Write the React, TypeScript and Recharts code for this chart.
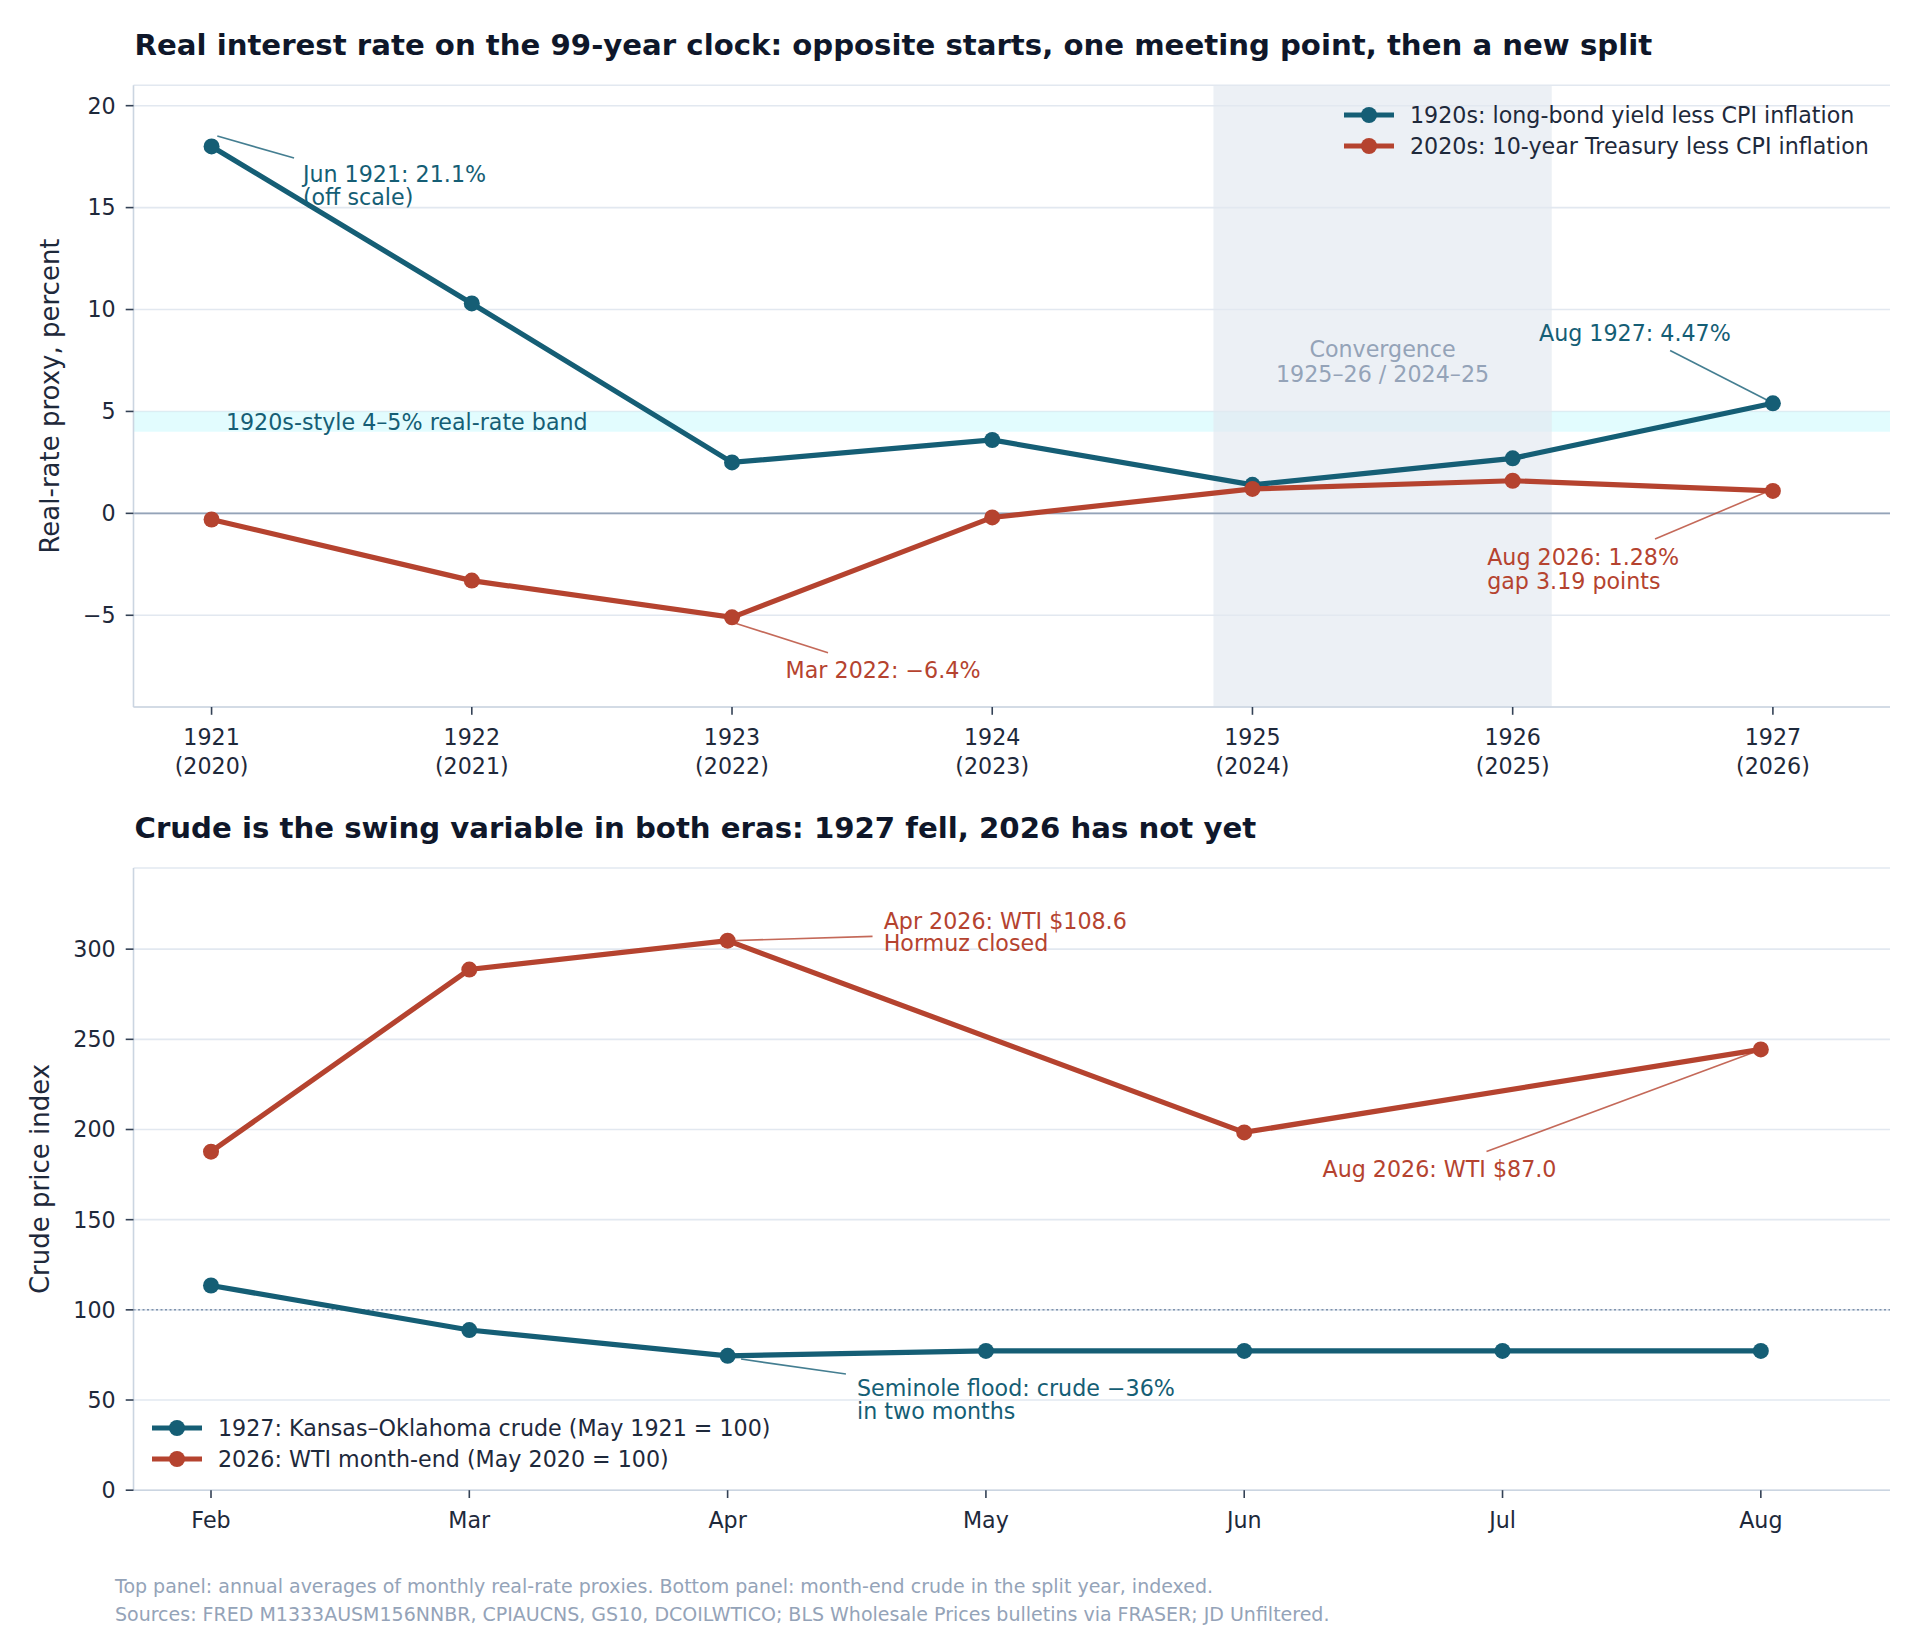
import {
  LineChart,
  Line,
  XAxis,
  YAxis,
  CartesianGrid,
  ReferenceArea,
  ReferenceLine,
  ReferenceDot,
} from 'recharts'

const FONT = '"DejaVu Sans", sans-serif'
const TEAL = '#155e75'
const RUST = '#b5432f'
const INK = '#1e293b'
const MUTED = '#94a3b8'
const GRID = '#e2e8f0'
const SPINE = '#cbd5e1'

// top panel: annual averages
const years1920s = ['1921', '1922', '1923', '1924', '1925', '1926', '1927']
const years2020s = ['2020', '2021', '2022', '2023', '2024', '2025', '2026']
const realRate1920s = [18.0, 10.3, 2.5, 3.6, 1.4, 2.7, 5.4]
const realRate2020s = [-0.3, -3.3, -5.1, -0.2, 1.2, 1.6, 1.1]
const rateTicks = [-5, 0, 5, 10, 15, 20]

// bottom panel: month-end crude, indexed
const months = ['Feb', 'Mar', 'Apr', 'May', 'Jun', 'Jul', 'Aug']
const crude1927 = [113.5, 88.8, 74.5, 77.2, 77.2, 77.2, 77.2]
const wti2026 = [187.7, 288.7, 304.7, null, 198.4, null, 244.4]
const crudeTicks = [0, 50, 100, 150, 200, 250, 300]

const rateRows = years1920s.map((_, i) => ({ i, a: realRate1920s[i], b: realRate2020s[i] }))
const crudeRows = months.map((_, i) => ({ i, a: crude1927[i], b: wti2026[i] }))

const topLegend = [
  { label: '1920s: long-bond yield less CPI inflation', color: TEAL },
  { label: '2020s: 10-year Treasury less CPI inflation', color: RUST },
]
const bottomLegend = [
  { label: '1927: Kansas–Oklahoma crude (May 1921 = 100)', color: TEAL },
  { label: '2026: WTI month-end (May 2020 = 100)', color: RUST },
]

const fmt = (v: number) => (v < 0 ? `\u2212${Math.abs(v)}` : `${v}`)

const YearTick = ({ x, y, payload }: any) => (
  <text x={x} y={y} textAnchor="middle" fill={INK} fontSize={22.2} fontFamily={FONT}>
    <tspan x={x} dy={30}>{years1920s[payload.value]}</tspan>
    <tspan x={x} dy={29}>({years2020s[payload.value]})</tspan>
  </text>
)

const MonthTick = ({ x, y, payload }: any) => (
  <text x={x} y={y} textAnchor="middle" fill={INK} fontSize={22.2} fontFamily={FONT} dy={29.6}>
    {months[payload.value]}
  </text>
)

// text label drawn at a data position
const note = (lines: string[], color: string, anchor = 'start', gap = 23) => (p: any) => (
  <text x={p.cx} y={p.cy} fill={color} fontSize={22.2} fontFamily={FONT} textAnchor={anchor}>
    {lines.map((l, k) => (
      <tspan key={k} x={p.cx} dy={k === 0 ? 0 : gap}>
        {l}
      </tspan>
    ))}
  </text>
)

const Legendish = ({ items, top, left, gap }: any) => (
  <div
    style={{
      position: 'absolute',
      top,
      left,
      fontFamily: FONT,
      fontSize: 22.2,
      color: INK,
    }}
  >
    {items.map((it: any) => (
      <div key={it.label} style={{ display: 'flex', alignItems: 'center', height: gap, whiteSpace: 'nowrap' }}>
        <svg width={50} height={18}>
          <line x1={0} y1={9} x2={50} y2={9} stroke={it.color} strokeWidth={5.2} />
          <circle cx={25} cy={9} r={8} fill={it.color} />
        </svg>
        <span style={{ marginLeft: 16 }}>{it.label}</span>
      </div>
    ))}
  </div>
)

const connector = (x1: number, y1: number, x2: number, y2: number, color: string) => (
  <ReferenceLine
    segment={[
      { x: x1, y: y1 },
      { x: x2, y: y2 },
    ]}
    stroke={color}
    strokeOpacity={0.8}
    strokeWidth={1.6}
    ifOverflow="visible"
  />
)

const axisTick = { fill: INK, fontSize: 22.2, fontFamily: FONT }
const dotStyle = (c: string) => ({ r: 8, fill: c, stroke: c, strokeWidth: 0 })

const App = () => {
  return (
    <div style={{ position: 'absolute', top: 0, left: 0, width: 1920, height: 1639, background: '#fff' }}>
      <svg width={1920} height={1639} style={{ position: 'absolute', top: 0, left: 0 }}>
        <text x={134.5} y={55} fill="#0f172a" fontSize={29.2} fontWeight="bold" fontFamily={FONT}>
          Real interest rate on the 99-year clock: opposite starts, one meeting point, then a new split
        </text>
        <text x={134.5} y={838} fill="#0f172a" fontSize={29.2} fontWeight="bold" fontFamily={FONT}>
          Crude is the swing variable in both eras: 1927 fell, 2026 has not yet
        </text>
        <text
          x={59.4}
          y={396}
          transform="rotate(-90 59.4 396)"
          textAnchor="middle"
          fill={INK}
          fontSize={26}
          fontFamily={FONT}
        >
          Real-rate proxy, percent
        </text>
        <text
          x={49.4}
          y={1179}
          transform="rotate(-90 49.4 1179)"
          textAnchor="middle"
          fill={INK}
          fontSize={26}
          fontFamily={FONT}
        >
          Crude price index
        </text>
        <text x={115} y={1593} fill={MUTED} fontSize={19} fontFamily={FONT}>
          Top panel: annual averages of monthly real-rate proxies. Bottom panel: month-end crude in the split year, indexed.
        </text>
        <text x={115} y={1621.4} fill={MUTED} fontSize={19} fontFamily={FONT}>
          Sources: FRED M1333AUSM156NNBR, CPIAUCNS, GS10, DCOILWTICO; BLS Wholesale Prices bulletins via FRASER; JD Unfiltered.
        </text>
      </svg>

      <div style={{ position: 'absolute', top: 0, left: 0 }}>
        <LineChart width={1920} height={790} data={rateRows} margin={{ top: 85.3, right: 30, bottom: 0, left: 73.5 }}>
          <ReferenceArea y1={4} y2={5} fill="#cffafe" fillOpacity={0.6} stroke="none" ifOverflow="visible" />
          <ReferenceArea x1={3.85} x2={5.15} fill={GRID} fillOpacity={0.65} stroke="none" />
          <CartesianGrid horizontal vertical={false} stroke={GRID} strokeWidth={1.6} />
          <ReferenceLine y={0} stroke={MUTED} strokeWidth={1.8} />
          <XAxis
            type="number"
            dataKey="i"
            domain={[-0.3, 6.45]}
            ticks={[0, 1, 2, 3, 4, 5, 6]}
            allowDataOverflow
            height={83}
            tick={<YearTick />}
            tickSize={7.8}
            tickMargin={0}
            axisLine={{ stroke: SPINE, strokeWidth: 1.6 }}
            tickLine={{ stroke: '#334155', strokeWidth: 1.6 }}
          />
          <YAxis
            domain={[-9.5, 21]}
            ticks={rateTicks}
            allowDataOverflow
            width={60}
            tick={axisTick}
            tickFormatter={fmt}
            tickSize={7.8}
            tickMargin={10}
            axisLine={{ stroke: SPINE, strokeWidth: 1.6 }}
            tickLine={{ stroke: '#334155', strokeWidth: 1.6 }}
          />
          {connector(0.022, 18.51, 0.317, 17.43, TEAL)}
          {connector(2.004, -5.35, 2.369, -6.84, RUST)}
          {connector(5.605, 7.99, 5.977, 5.56, TEAL)}
          {connector(5.547, -1.26, 5.977, 1.06, RUST)}
          <Line
            dataKey="a"
            stroke={TEAL}
            strokeWidth={5.2}
            dot={dotStyle(TEAL)}
            activeDot={false}
            isAnimationActive={false}
          />
          <Line
            dataKey="b"
            stroke={RUST}
            strokeWidth={5.2}
            dot={dotStyle(RUST)}
            activeDot={false}
            isAnimationActive={false}
          />
          <ReferenceDot x={0.351} y={16.26} r={0} ifOverflow="visible" shape={note(['Jun 1921: 21.1%', '(off scale)'], TEAL)} />
          <ReferenceDot x={0.055} y={4.11} r={0} ifOverflow="visible" shape={note(['1920s-style 4–5% real-rate band'], TEAL)} />
          <ReferenceDot x={2.206} y={-8.06} r={0} ifOverflow="visible" shape={note(['Mar 2022: \u22126.4%'], RUST)} />
          <ReferenceDot
            x={4.5}
            y={7.67}
            r={0}
            ifOverflow="visible"
            shape={note(['Convergence', '1925–26 / 2024–25'], MUTED, 'middle', 25)}
          />
          <ReferenceDot x={5.101} y={8.47} r={0} ifOverflow="visible" shape={note(['Aug 1927: 4.47%'], TEAL)} />
          <ReferenceDot
            x={4.902}
            y={-2.51}
            r={0}
            ifOverflow="visible"
            shape={note(['Aug 2026: 1.28%', 'gap 3.19 points'], RUST, 'start', 24.5)}
          />
        </LineChart>
      </div>

      <div style={{ position: 'absolute', top: 800, left: 0 }}>
        <LineChart width={1920} height={750.2} data={crudeRows} margin={{ top: 68, right: 30, bottom: 0, left: 73.5 }}>
          <CartesianGrid horizontal vertical={false} stroke={GRID} strokeWidth={1.6} />
          <ReferenceLine y={100} stroke="#7f93ad" strokeWidth={1.5} strokeDasharray="2 2.5" />
          <XAxis
            type="number"
            dataKey="i"
            domain={[-0.3, 6.5]}
            ticks={[0, 1, 2, 3, 4, 5, 6]}
            allowDataOverflow
            height={60}
            tick={<MonthTick />}
            tickSize={7.8}
            tickMargin={0}
            axisLine={{ stroke: SPINE, strokeWidth: 1.6 }}
            tickLine={{ stroke: '#334155', strokeWidth: 1.6 }}
          />
          <YAxis
            domain={[0, 345]}
            ticks={crudeTicks}
            allowDataOverflow
            width={60}
            tick={axisTick}
            tickSize={7.8}
            tickMargin={10}
            axisLine={{ stroke: SPINE, strokeWidth: 1.6 }}
            tickLine={{ stroke: '#334155', strokeWidth: 1.6 }}
          />
          {connector(2.009, 304.7, 2.561, 307.1, RUST)}
          {connector(2.052, 72.7, 2.458, 64.4, TEAL)}
          {connector(4.938, 187.8, 5.981, 243.2, RUST)}
          <Line
            dataKey="a"
            stroke={TEAL}
            strokeWidth={5.2}
            dot={dotStyle(TEAL)}
            activeDot={false}
            isAnimationActive={false}
          />
          <Line
            dataKey="b"
            stroke={RUST}
            strokeWidth={5.2}
            connectNulls
            dot={dotStyle(RUST)}
            activeDot={false}
            isAnimationActive={false}
          />
          <ReferenceDot
            x={2.604}
            y={311.2}
            r={0}
            ifOverflow="visible"
            shape={note(['Apr 2026: WTI $108.6', 'Hormuz closed'], RUST, 'start', 22.5)}
          />
          <ReferenceDot
            x={2.501}
            y={51.95}
            r={0}
            ifOverflow="visible"
            shape={note(['Seminole flood: crude \u221236%', 'in two months'], TEAL)}
          />
          <ReferenceDot x={4.303} y={173.9} r={0} ifOverflow="visible" shape={note(['Aug 2026: WTI $87.0'], RUST)} />
        </LineChart>
      </div>

      <Legendish items={topLegend} top={99.5} left={1344} gap={31} />
      <Legendish items={bottomLegend} top={1411.8} left={152} gap={31.6} />
    </div>
  )
}

export default App
